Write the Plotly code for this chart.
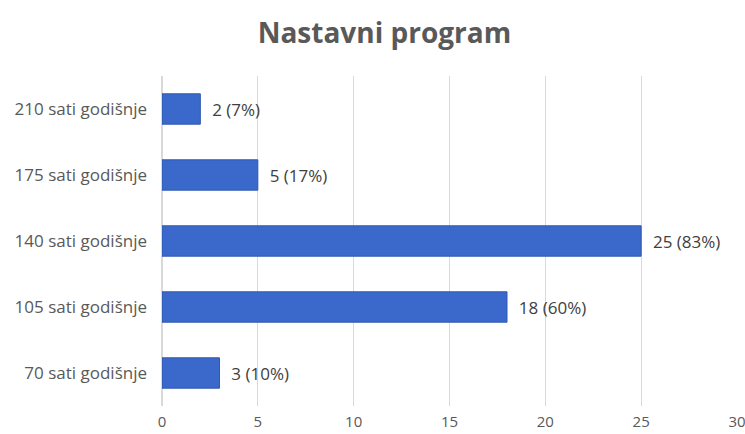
import plotly.graph_objects as go

categories = ["70 sati godišnje", "105 sati godišnje", "140 sati godišnje", "175 sati godišnje", "210 sati godišnje"]
values = [3, 18, 25, 5, 2]
percents = ["10%", "60%", "83%", "17%", "7%"]
labels = [f"\u00a0\u00a0{v} ({p})" for v, p in zip(values, percents)]
tick_vals = [0, 5, 10, 15, 20, 25, 30]

FONT = "Open Sans, Noto Sans, sans-serif"

fig = go.Figure(go.Bar(
    x=values, y=categories, orientation="h",
    marker=dict(color="#3B68CB", line=dict(color="#2F58B0", width=1)),
    width=0.46,
    text=labels, textposition="outside", cliponaxis=False,
    textfont=dict(family=FONT, size=17, color="#404040"),
))

fig.update_layout(
    width=745, height=434,
    margin=dict(l=162, r=8, t=76, b=28),
    paper_bgcolor="white", plot_bgcolor="white",
    title=dict(text="<b>Nastavni program</b>", x=0.516, xref="container", xanchor="center",
               y=0.924, yref="container", yanchor="middle",
               font=dict(family=FONT, size=28, color="#595959")),
    showlegend=False,
    xaxis=dict(range=[0, 30], tickvals=tick_vals, showgrid=True, gridcolor="#D9D9D9",
               zeroline=True, zerolinecolor="#D9D9D9", showline=False, ticks="",
               tickfont=dict(family=FONT, size=15, color="#595959"),
               ticklabelstandoff=5, automargin=False, ticklabeloverflow="allow"),
    yaxis=dict(showgrid=False, showline=False, ticks="", ticklabelstandoff=14,
               automargin=False,
               tickfont=dict(family=FONT, size=17, color="#595959")),
)

fig.write_html("out.html")
